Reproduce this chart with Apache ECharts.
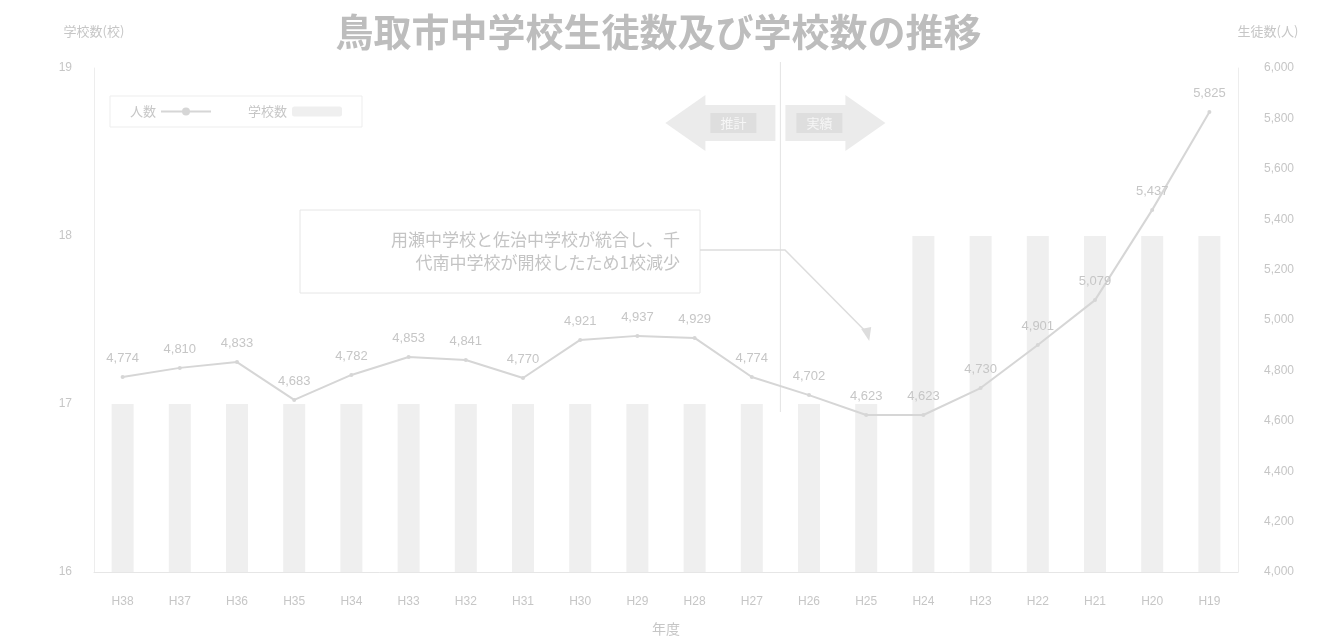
<!DOCTYPE html>
<html>
<head>
<meta charset="utf-8">
<script src="https://cdn.jsdelivr.net/npm/echarts@6/dist/echarts.min.js"></script>
<style>
html,body{margin:0;padding:0;background:#fff;}
#chart{width:1317px;height:641px;}
</style>
</head>
<body>
<div id="chart"></div>
<script>
// categories (fiscal years, Heisei)
const years = ['H19','H20','H21','H22','H23','H24','H25','H26','H27','H28','H29','H30','H31','H32','H33','H34','H35','H36','H37','H38'];
// number of schools (bars, left axis)
const schools = [18,18,18,18,18,18,17,17,17,17,17,17,17,17,17,17,17,17,17,17];
// number of students (line, right axis)
const students = [5825,5437,5079,4901,4730,4623,4623,4702,4774,4929,4937,4921,4770,4841,4853,4782,4683,4833,4810,4774];
const leftTicks = {min:16, max:19, interval:1};
const rightTicks = {min:4000, max:6000, interval:200};

const txt = '#c6c6c6';
const chart = echarts.init(document.getElementById('chart'));
const option = {
  backgroundColor:'#ffffff',
  animation:false,
  title:{
    text:'鳥取市中学校生徒数及び学校数の推移',
    left:'center', top:8,
    textStyle:{color:'#bdbdbd', fontSize:38, fontWeight:'bold', fontFamily:'Noto Sans CJK JP'}
  },
  legend:{
    left:110, top:96,
    align:'right',
    itemWidth:50, itemHeight:10, itemGap:36,
    borderColor:'#ededed', borderWidth:1, padding:[9,20],
    textStyle:{color:txt, fontSize:13, fontFamily:'Noto Sans CJK JP'},
    data:['人数','学校数']
  },
  grid:{left:94, right:79, top:68, bottom:69, containLabel:false, outerBoundsMode:'none'},
  xAxis:{
    type:'category', data:years, inverse:true,
    name:'年度', nameLocation:'middle', nameGap:50,
    nameTextStyle:{color:txt, fontSize:14, fontFamily:'Noto Sans CJK JP'},
    axisLine:{lineStyle:{color:'#e6e6e6'}},
    axisTick:{show:false},
    axisLabel:{color:txt, fontSize:12, margin:24}
  },
  yAxis:[
    {
      type:'value', position:'left', min:leftTicks.min, max:leftTicks.max, interval:leftTicks.interval,
      name:'学校数(校)', nameLocation:'end', nameGap:30,
      nameTextStyle:{color:txt, fontSize:13, align:'center', fontFamily:'Noto Sans CJK JP'},
      axisLine:{show:true, lineStyle:{color:'#ededed'}},
      axisTick:{show:false},
      splitLine:{show:false},
      axisLabel:{color:txt, fontSize:12, margin:22}
    },
    {
      type:'value', position:'right', min:rightTicks.min, max:rightTicks.max, interval:rightTicks.interval,
      name:'生徒数(人)', nameLocation:'end', nameGap:30,
      nameTextStyle:{color:txt, fontSize:13, align:'center', padding:[0,0,0,60], fontFamily:'Noto Sans CJK JP'},
      axisLine:{show:true, lineStyle:{color:'#ededed'}},
      axisTick:{show:false},
      splitLine:{show:false},
      axisLabel:{color:txt, fontSize:12, margin:26, formatter:v=>v.toLocaleString('en-US')}
    }
  ],
  series:[
    {
      name:'学校数', type:'bar', yAxisIndex:0, data:schools, barWidth:22,
      itemStyle:{color:'#efefef'}
    },
    {
      name:'人数', type:'line', yAxisIndex:1, data:students,
      symbol:'circle', symbolSize:4,
      lineStyle:{color:'#d6d6d6', width:2},
      itemStyle:{color:'#d6d6d6'},
      label:{show:true, position:'top', distance:10, color:txt, fontSize:13,
        formatter:p=>p.value.toLocaleString('en-US')}
    }
  ]
};
chart.setOption(option);

// annotations positioned from the axes
const xa = chart.convertToPixel({xAxisIndex:0}, years[7]);
const xb = chart.convertToPixel({xAxisIndex:0}, years[8]);
const divX = (xa + xb) / 2;
const p6 = chart.convertToPixel({xAxisIndex:0, yAxisIndex:1}, [years[6], students[6]]);
const arrowY = 123;
chart.setOption({
  graphic:[
    {type:'line', shape:{x1:divX, y1:62, x2:divX, y2:412}, style:{stroke:'#e4e4e4', lineWidth:1}},
    // left arrow (推計)
    {type:'polygon', shape:{points:[[divX-115,arrowY],[divX-75,arrowY-28],[divX-75,arrowY-18],[divX-5,arrowY-18],[divX-5,arrowY+18],[divX-75,arrowY+18],[divX-75,arrowY+28]]},
      style:{fill:'#ebebeb'}},
    {type:'rect', shape:{x:divX-70, y:arrowY-10, width:46, height:20}, style:{fill:'#dedede'}},
    {type:'text', x:divX-47, y:arrowY, style:{text:'推計', fill:'#f6f6f6', fontSize:13, align:'center', verticalAlign:'middle', fontFamily:'Noto Sans CJK JP'}},
    // right arrow (実績)
    {type:'polygon', shape:{points:[[divX+105,arrowY],[divX+65,arrowY-28],[divX+65,arrowY-18],[divX+5,arrowY-18],[divX+5,arrowY+18],[divX+65,arrowY+18],[divX+65,arrowY+28]]},
      style:{fill:'#ebebeb'}},
    {type:'rect', shape:{x:divX+16, y:arrowY-10, width:46, height:20}, style:{fill:'#dedede'}},
    {type:'text', x:divX+39, y:arrowY, style:{text:'実績', fill:'#f6f6f6', fontSize:13, align:'center', verticalAlign:'middle', fontFamily:'Noto Sans CJK JP'}},
    // note box
    {type:'rect', shape:{x:300, y:210, width:400, height:83}, style:{fill:'#ffffff', stroke:'#e6e6e6', lineWidth:1}},
    {type:'text', x:680, y:228, style:{text:'用瀬中学校と佐治中学校が統合し、千\n代南中学校が開校したため1校減少', fill:'#c4c4c4', fontSize:17, lineHeight:23, align:'right', verticalAlign:'top', fontFamily:'Noto Sans CJK JP'}},
    {type:'polyline', shape:{points:[[700,250],[785,250],[p6[0]+3,p6[1]-80]]}, style:{stroke:'#dddddd', lineWidth:1.5, fill:null}},
    {type:'polygon', shape:{points:[[p6[0]+3,p6[1]-74],[p6[0]-5,p6[1]-86],[p6[0]+5,p6[1]-88]]}, style:{fill:'#dddddd'}}
  ]
});
</script>
</body>
</html>
